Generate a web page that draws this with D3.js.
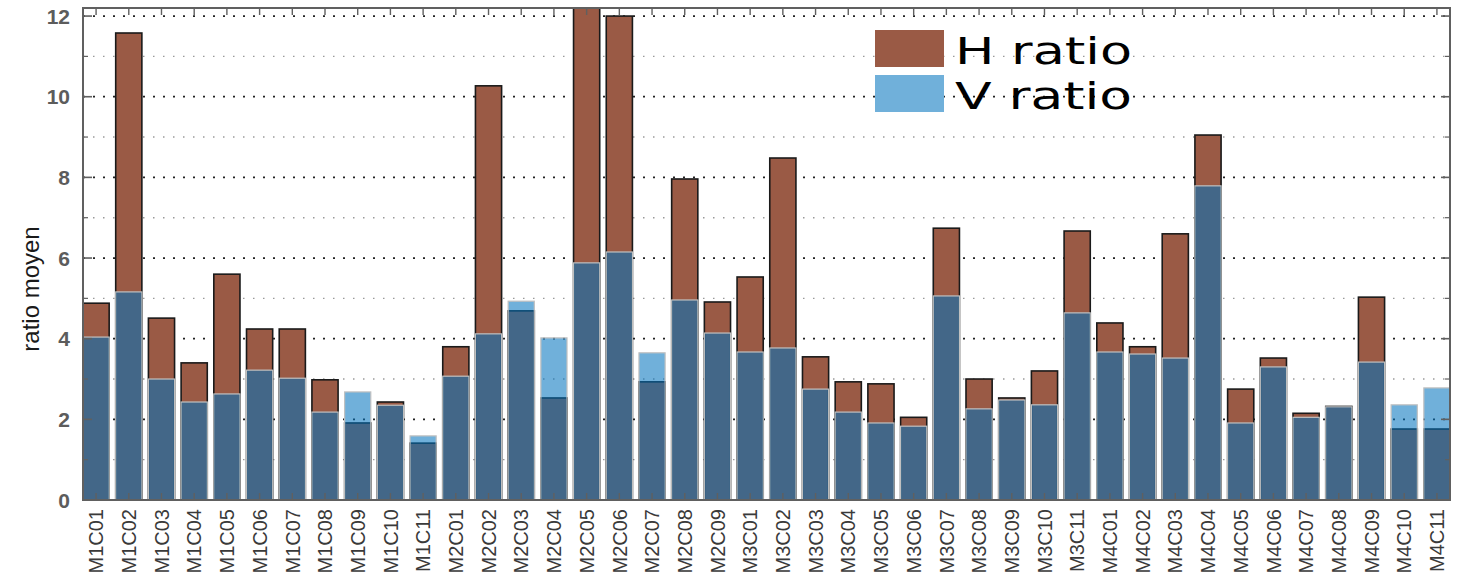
<!DOCTYPE html>
<html>
<head>
<meta charset="utf-8">
<script src="https://cdn.jsdelivr.net/npm/d3@7"></script>
<style>
  html, body { margin: 0; padding: 0; background: #fff; }
  svg { display: block; }
</style>
</head>
<body>
<script>
// Sample identifiers (electrode / channel codes)
const categories = [
  "M1C01","M1C02","M1C03","M1C04","M1C05","M1C06","M1C07","M1C08","M1C09","M1C10","M1C11",
  "M2C01","M2C02","M2C03","M2C04","M2C05","M2C06","M2C07","M2C08","M2C09",
  "M3C01","M3C02","M3C03","M3C04","M3C05","M3C06","M3C07","M3C08","M3C09","M3C10","M3C11",
  "M4C01","M4C02","M4C03","M4C04","M4C05","M4C06","M4C07","M4C08","M4C09","M4C10","M4C11"
];

// Mean horizontal ratio
const hRatio = [
  4.88, 11.58, 4.51, 3.40, 5.60, 4.24, 4.24, 2.98, 1.91, 2.43, 1.41,
  3.80, 10.27, 4.69, 2.53, 12.80, 12.00, 2.93, 7.96, 4.91,
  5.53, 8.48, 3.55, 2.93, 2.88, 2.05, 6.74, 3.00, 2.53, 3.20, 6.67,
  4.39, 3.80, 6.60, 9.05, 2.75, 3.52, 2.15, 2.32, 5.03, 1.76, 1.76
];

// Mean vertical ratio
const vRatio = [
  4.04, 5.16, 3.00, 2.43, 2.63, 3.22, 3.02, 2.18, 2.68, 2.35, 1.59,
  3.07, 4.12, 4.93, 4.02, 5.88, 6.15, 3.65, 4.96, 4.14,
  3.67, 3.77, 2.75, 2.18, 1.91, 1.83, 5.06, 2.26, 2.48, 2.36, 4.64,
  3.67, 3.62, 3.52, 7.79, 1.91, 3.30, 2.05, 2.31, 3.42, 2.36, 2.78
];

const majorTicks = [0, 2, 4, 6, 8, 10, 12];
const minorTicks = [1, 3, 5, 7, 9, 11];
const yLabel = "ratio moyen";
const legendLabels = ["H ratio", "V ratio"];

const W = 1466, H = 581;
const plot = { left: 83, right: 1450, top: 8, bottom: 500 };

const svg = d3.select("body").append("svg")
  .attr("width", W).attr("height", H);

const x = d3.scaleBand()
  .domain(categories)
  .range([plot.left, plot.right])
  .paddingInner(0.2)
  .paddingOuter(0);

const y = d3.scaleLinear()
  .domain([0, 12.2])
  .range([plot.bottom, plot.top]);

const hColor = "#9a5a45";
const vColor = "#0072bd";
const vOpacity = 0.56;

svg.append("defs").append("clipPath").attr("id", "plotClip")
  .append("rect")
  .attr("x", plot.left).attr("y", plot.top)
  .attr("width", plot.right - plot.left).attr("height", plot.bottom - plot.top);

// Grid lines
const grid = svg.append("g");
grid.selectAll("line.minor").data(minorTicks).join("line")
  .attr("class", "minor")
  .attr("x1", plot.left).attr("x2", plot.right)
  .attr("y1", d => y(d)).attr("y2", d => y(d))
  .attr("stroke", "#9a9a9a").attr("stroke-width", 1.4)
  .attr("stroke-dasharray", "1.5,8.5");
grid.selectAll("line.major").data(majorTicks.filter(d => d > 0)).join("line")
  .attr("class", "major")
  .attr("x1", plot.left).attr("x2", plot.right)
  .attr("y1", d => y(d)).attr("y2", d => y(d))
  .attr("stroke", "#222").attr("stroke-width", 1.8)
  .attr("stroke-dasharray", "2,8");

// Bars: H first, then the translucent V bars over them
const bars = svg.append("g").attr("clip-path", "url(#plotClip)");
bars.selectAll("rect.h").data(categories).join("rect")
  .attr("class", "h")
  .attr("x", d => x(d)).attr("width", x.bandwidth())
  .attr("y", (d, i) => y(hRatio[i]))
  .attr("height", (d, i) => y(0) - y(hRatio[i]))
  .attr("fill", hColor)
  .attr("stroke", "#1a1a1a").attr("stroke-width", 1.6);

bars.selectAll("rect.v").data(categories).join("rect")
  .attr("class", "v")
  .attr("x", d => x(d)).attr("width", x.bandwidth())
  .attr("y", (d, i) => y(vRatio[i]))
  .attr("height", (d, i) => y(0) - y(vRatio[i]))
  .attr("fill", vColor).attr("fill-opacity", vOpacity)
  .attr("stroke", "#c0c0c0").attr("stroke-width", 1.2);

// Axes frame and ticks
const axisColor = "#606060";
const ticks = svg.append("g").attr("stroke", axisColor);

// left / right ticks (inside)
ticks.selectAll("line.lmaj").data(majorTicks).join("line")
  .attr("x1", plot.left).attr("x2", plot.left + 9)
  .attr("y1", d => y(d)).attr("y2", d => y(d)).attr("stroke-width", 1.6);
ticks.selectAll("line.lmin").data(minorTicks).join("line")
  .attr("x1", plot.left).attr("x2", plot.left + 5)
  .attr("y1", d => y(d)).attr("y2", d => y(d)).attr("stroke-width", 1.2);
ticks.selectAll("line.rmaj").data(majorTicks).join("line")
  .attr("x1", plot.right).attr("x2", plot.right - 9)
  .attr("y1", d => y(d)).attr("y2", d => y(d)).attr("stroke-width", 1.6);
ticks.selectAll("line.rmin").data(minorTicks).join("line")
  .attr("x1", plot.right).attr("x2", plot.right - 5)
  .attr("y1", d => y(d)).attr("y2", d => y(d)).attr("stroke-width", 1.2);

// top / bottom ticks at each category
ticks.selectAll("line.tt").data(categories).join("line")
  .attr("x1", d => x(d) + x.bandwidth() / 2).attr("x2", d => x(d) + x.bandwidth() / 2)
  .attr("y1", plot.top).attr("y2", plot.top + 7).attr("stroke-width", 1.4);
ticks.selectAll("line.bt").data(categories).join("line")
  .attr("x1", d => x(d) + x.bandwidth() / 2).attr("x2", d => x(d) + x.bandwidth() / 2)
  .attr("y1", plot.bottom).attr("y2", plot.bottom - 7).attr("stroke-width", 1.4);

svg.append("rect")
  .attr("x", plot.left).attr("y", plot.top)
  .attr("width", plot.right - plot.left).attr("height", plot.bottom - plot.top)
  .attr("fill", "none").attr("stroke", axisColor).attr("stroke-width", 2);

// Y tick labels
svg.append("g").selectAll("text").data(majorTicks).join("text")
  .attr("x", plot.left - 13).attr("y", d => y(d))
  .attr("dy", "0.36em")
  .attr("text-anchor", "end")
  .attr("font-family", "Liberation Sans, Arial, sans-serif")
  .attr("font-size", 21).attr("font-weight", "bold")
  .attr("fill", "#5c5c5c")
  .text(d => d);

// X tick labels (vertical)
svg.append("g").selectAll("text").data(categories).join("text")
  .attr("transform", d => `translate(${x(d) + x.bandwidth() / 2},${plot.bottom + 9}) rotate(-90)`)
  .attr("dy", "0.36em")
  .attr("text-anchor", "end")
  .attr("font-family", "Liberation Sans, Arial, sans-serif")
  .attr("font-size", 20)
  .attr("fill", "#3a3a3a")
  .text(d => d);

// Y axis title
svg.append("text")
  .attr("transform", `translate(31,289) rotate(-90)`)
  .attr("dy", "0.35em")
  .attr("text-anchor", "middle")
  .attr("font-family", "Liberation Sans, Arial, sans-serif")
  .attr("font-size", 24)
  .attr("fill", "#1a1a1a")
  .text(yLabel);

// Legend
const legend = svg.append("g");
const legendRows = [
  { label: legendLabels[0], fill: hColor, opacity: 1, y0: 30 },
  { label: legendLabels[1], fill: vColor, opacity: vOpacity, y0: 75 }
];
legendRows.forEach(r => {
  legend.append("rect")
    .attr("x", 875).attr("y", r.y0).attr("width", 69).attr("height", 37)
    .attr("fill", "#fff");
  legend.append("rect")
    .attr("x", 875).attr("y", r.y0).attr("width", 69).attr("height", 37)
    .attr("fill", r.fill).attr("fill-opacity", r.opacity);
  legend.append("text")
    .attr("x", 955).attr("y", r.y0 + 34)
    .attr("font-family", "DejaVu Sans, sans-serif")
    .attr("font-size", 38)
    .attr("textLength", 177)
    .attr("lengthAdjust", "spacingAndGlyphs")
    .attr("fill", "#000")
    .text(r.label);
});
</script>
</body>
</html>
